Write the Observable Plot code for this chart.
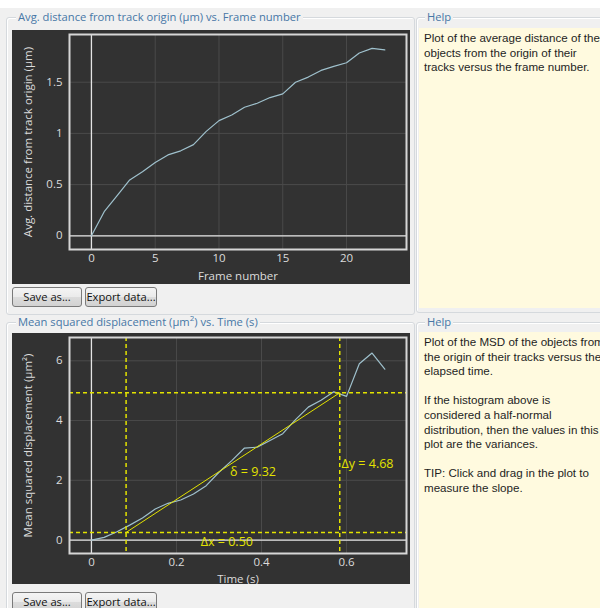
<!DOCTYPE html>
<html>
<head>
<meta charset="utf-8">
<script src="https://cdn.jsdelivr.net/npm/d3@7"></script>
<script src="https://cdn.jsdelivr.net/npm/@observablehq/plot@0.6"></script>
<style>
  html, body { margin: 0; padding: 0; }
  body { width: 600px; height: 608px; overflow: hidden; position: relative; background: #ffffff; font-family: "Open Sans", sans-serif; }
  .bg { position: absolute; left: 0; top: 8px; width: 600px; height: 600px; background: #f0f0f0; }
  .group { position: absolute; border: 1px solid #d5d9dd; border-radius: 3px; box-shadow: inset 1px 1px 0 #ffffff; }
  .gtitle { position: absolute; background: #f0f0f0; color: #4777a6; font-size: 11.2px; line-height: 14px; padding: 0 2px; white-space: nowrap; }
  .help { position: absolute; background: #fffadf; color: #1e1e1e; font-family: "Liberation Sans", Arial, sans-serif; font-size: 11.6px; line-height: 14.6px; white-space: nowrap; overflow: hidden; box-sizing: border-box; padding: 3px 0 0 5px; }
  .btn { position: absolute; height: 20px; box-sizing: border-box; border: 1px solid #7a7a7a; border-radius: 3px;
         background: linear-gradient(#f4f4f4 0%, #ebebeb 48%, #dcdcdc 52%, #d2d2d2 100%);
         font-size: 11.2px; line-height: 18px; text-align: center; color: #111; white-space: nowrap; overflow: hidden; }
  .chart { position: absolute; }
  .chart svg { display: block; }
</style>
</head>
<body>
<div class="bg"></div>

<!-- top-left group -->
<div class="group" style="left:6px; top:17px; width:407px; height:296px;"></div>
<div class="gtitle" style="left:16px; top:10px;">Avg. distance from track origin (µm) vs. Frame number</div>
<div class="chart" id="chart1" style="left:12px; top:30px;"></div>
<div class="btn" style="left:12px; top:287px; width:70px;">Save as...</div>
<div class="btn" style="left:85px; top:287px; width:72px;">Export data...</div>

<!-- top-right help -->
<div class="group" style="left:416px; top:17px; width:200px; height:294px;"></div>
<div class="gtitle" style="left:425px; top:10px;">Help</div>
<div class="help" style="left:419px; top:28px; width:181px; height:280px;">Plot of the average distance of the<br>objects from the origin of their<br>tracks versus the frame number.</div>

<!-- bottom-left group -->
<div class="group" style="left:6px; top:322px; width:407px; height:300px;"></div>
<div class="gtitle" style="left:16px; top:315px;">Mean squared displacement (µm<sup style="font-size:8px; line-height:0;">2</sup>) vs. Time (s)</div>
<div class="chart" id="chart2" style="left:12px; top:333px;"></div>
<div class="btn" style="left:12px; top:592px; width:70px;">Save as...</div>
<div class="btn" style="left:85px; top:592px; width:72px;">Export data...</div>

<!-- bottom-right help -->
<div class="group" style="left:416px; top:322px; width:200px; height:300px;"></div>
<div class="gtitle" style="left:425px; top:315px;">Help</div>
<div class="help" style="left:419px; top:332px; width:181px; height:276px;">Plot of the MSD of the objects from<br>the origin of their tracks versus the<br>elapsed time.<br><br>If the histogram above is<br>considered a half-normal<br>distribution, then the values in this<br>plot are the variances.<br><br>TIP: Click and drag in the plot to<br>measure the slope.</div>

<script>
// ---------- data ----------
const frames = [0,1,2,3,4,5,6,7,8,9,10,11,12,13,14,15,16,17,18,19,20,21,22,23];
const avgDistance = [0, 0.235, 0.39, 0.545, 0.625, 0.715, 0.79, 0.83, 0.89, 1.02, 1.125, 1.18,
                     1.255, 1.295, 1.35, 1.386, 1.50, 1.55, 1.615, 1.655, 1.69, 1.785, 1.83, 1.815];
const frameTicks = [0, 5, 10, 15, 20];
const distanceTicks = [0, 0.5, 1, 1.5];

const times = [0,0.03,0.06,0.09,0.12,0.15,0.18,0.21,0.24,0.27,0.30,0.33,0.36,0.39,0.42,0.45,0.48,0.51,0.54,0.57,0.60,0.63,0.66,0.69];
const msd = [0, 0.09, 0.28, 0.5, 0.74, 1.04, 1.23, 1.34, 1.54, 1.82, 2.27, 2.66, 3.08, 3.11,
             3.33, 3.56, 4.03, 4.45, 4.68, 4.96, 4.81, 5.9, 6.26, 5.72];
const timeTicks = [0, 0.2, 0.4, 0.6];
const msdTicks = [0, 2, 4, 6];

// slope measurement selection (drawn by user)
const selectionX = [0.0815, 0.584];
const selectionY = [0.255, 4.93];
const selectionLabels = ["δ = 9.32", "Δy = 4.68", "Δx = 0.50"];
const selectionLabelX = [0.380, 0.5884, 0.3185];
const selectionLabelY = [2.27, 2.55, -0.06];

// ---------- styles ----------
const BG = "#323232", GRID = "#4a4a4a", ZERO = "#e4e4e4", FRAME = "#d6d6d6";
const LINE = "#9fc1cd", YELLOW = "#e3e300";
const fontFamily = "'Open Sans', sans-serif";
const fmt = d => String(d);

const distTable = frames.map((f, i) => ({f, v: avgDistance[i]}));
const chart1 = Plot.plot({
  width: 398, height: 254,
  marginLeft: 57, marginRight: 4, marginTop: 4, marginBottom: 35,
  style: {background: BG, color: "#dcdcdc", fontFamily, fontSize: "11.5px"},
  x: {domain: [-1.72, 24.7]},
  y: {domain: [-0.134, 1.966]},
  marks: [
    Plot.gridX(frameTicks, {stroke: GRID, strokeOpacity: 1}),
    Plot.gridY(distanceTicks, {stroke: GRID, strokeOpacity: 1}),
    Plot.ruleX([0], {stroke: ZERO, strokeWidth: 1.3}),
    Plot.ruleY([0], {stroke: ZERO, strokeWidth: 1.3}),
    Plot.line(distTable, {x: "f", y: "v", stroke: LINE, strokeWidth: 1.2}),
    Plot.frame({stroke: FRAME, strokeWidth: 2}),
    Plot.axisX(frameTicks, {tickSize: 0, tickPadding: 4, tickFormat: fmt, label: "Frame number", labelAnchor: "center", labelArrow: "none", labelOffset: 30}),
    Plot.axisY(distanceTicks, {tickSize: 0, tickPadding: 7, tickFormat: fmt, label: "Avg. distance from track origin (µm)", labelAnchor: "center", labelArrow: "none", labelOffset: 46})
  ]
});
document.getElementById("chart1").append(chart1);

const msdTable = times.map((t, i) => ({t, v: msd[i]}));
const selTable = selectionX.map((x, i) => ({x, y: selectionY[i]}));
const labelTable = selectionLabels.map((s, i) => ({s, x: selectionLabelX[i], y: selectionLabelY[i], a: i === 1 ? "start" : "middle"}));
const chart2 = Plot.plot({
  width: 398, height: 251,
  marginLeft: 57, marginRight: 4, marginTop: 4, marginBottom: 31,
  style: {background: BG, color: "#dcdcdc", fontFamily, fontSize: "11.5px"},
  x: {domain: [-0.0516, 0.741]},
  y: {domain: [-0.45, 6.78]},
  marks: [
    Plot.gridX(timeTicks, {stroke: GRID, strokeOpacity: 1}),
    Plot.gridY(msdTicks, {stroke: GRID, strokeOpacity: 1}),
    Plot.ruleX([0], {stroke: ZERO, strokeWidth: 1.3}),
    Plot.ruleY([0], {stroke: ZERO, strokeWidth: 1.3}),
    Plot.line(msdTable, {x: "t", y: "v", stroke: LINE, strokeWidth: 1.2}),
    Plot.ruleX(selectionX, {stroke: YELLOW, strokeWidth: 1.5, strokeDasharray: "4,3"}),
    Plot.ruleY(selectionY, {stroke: YELLOW, strokeWidth: 1.5, strokeDasharray: "4,3"}),
    Plot.line(selTable, {x: "x", y: "y", stroke: YELLOW, strokeWidth: 1}),
    Plot.text(labelTable.filter(d => d.a === "middle"), {x: "x", y: "y", text: "s", fill: YELLOW, fontSize: 12.5, textAnchor: "middle"}),
    Plot.text(labelTable.filter(d => d.a === "start"), {x: "x", y: "y", text: "s", fill: YELLOW, fontSize: 12.5, textAnchor: "start"}),
    Plot.frame({stroke: FRAME, strokeWidth: 2}),
    Plot.axisX(timeTicks, {tickSize: 0, tickPadding: 4, tickFormat: fmt, label: "Time (s)", labelAnchor: "center", labelArrow: "none", labelOffset: 29}),
    Plot.axisY(msdTicks, {tickSize: 0, tickPadding: 7, tickFormat: fmt, label: "Mean squared displacement (µm²)", labelAnchor: "center", labelArrow: "none", labelOffset: 46})
  ]
});
document.getElementById("chart2").append(chart2);
</script>
</body>
</html>
